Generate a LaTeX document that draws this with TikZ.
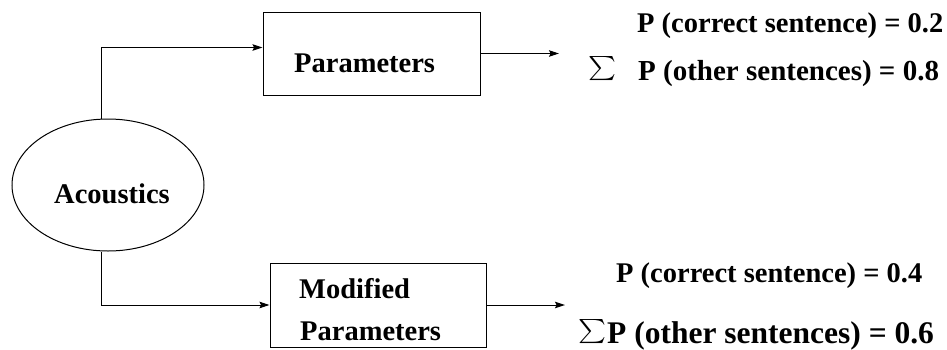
\documentclass[tikz,border=0pt]{standalone}
\usepackage{fontspec}
\usepackage{graphicx}
\setmainfont{Liberation Serif}
\usetikzlibrary{shapes.geometric,arrows.meta}
\newcommand{\bigsum}{\resizebox{28pt}{27pt}{$\sum$}}
\begin{document}
\begin{tikzpicture}[x=1pt,y=-1pt,
  lbl/.style={inner sep=0pt, font=\fontsize{28.5}{34}\selectfont\bfseries},
  lblbig/.style={inner sep=0pt, font=\fontsize{31.5}{38}\selectfont\bfseries},
  block/.style={draw, line width=1pt, inner sep=0pt},
  flow/.style={line width=1pt, -{Stealth[length=10pt,width=6.5pt,inset=1.5pt]}}]
\useasboundingbox (0,0) rectangle (947,349);

% source
\node[block, ellipse, minimum width=192pt, minimum height=132pt] (ac) at (108,185) {};
\node[lbl, anchor=base] (actext) at (112,203) {Acoustics};

% processing blocks
\node[block, minimum width=217pt, minimum height=83pt] (par) at (371.5,53.5) {};
\node[lbl, anchor=base west] (partext) at (294,72) {Parameters};
\node[block, minimum width=216pt, minimum height=84pt] (mod) at (378,305) {};
\node[lbl, anchor=base west] (modtext) at (299,298) {Modified};
\node[lbl, anchor=base west] (modtext2) at (300,340) {Parameters};

% outputs
\coordinate (parout) at (559,53.5);
\coordinate (modout) at (565,305);

\draw[flow] ([xshift=-7pt]ac.north) |- ([yshift=6pt]par.west);
\draw[flow] ([xshift=-7pt]ac.south) |- (mod.west);
\draw[flow] (par.east) -- (parout);
\draw[flow] (mod.east) -- (modout);

% probabilities
\node[lbl, anchor=base west] (pc1) at (637,32) {P (correct sentence) = 0.2};
\node[lbl, anchor=center] (s1) at (602,70) {\bigsum};
\node[lbl, anchor=base west, font=\fontsize{29}{34}\selectfont\bfseries] (po1) at (638,80) {P (other sentences) = 0.8};
\node[lbl, anchor=base west] (pc2) at (616,282) {P (correct sentence) = 0.4};
\node[lbl, anchor=center] (s2) at (592,333) {\bigsum};
\node[lblbig, anchor=base west] (po2) at (607,343) {P (other sentences) = 0.6};
\end{tikzpicture}
\end{document}
